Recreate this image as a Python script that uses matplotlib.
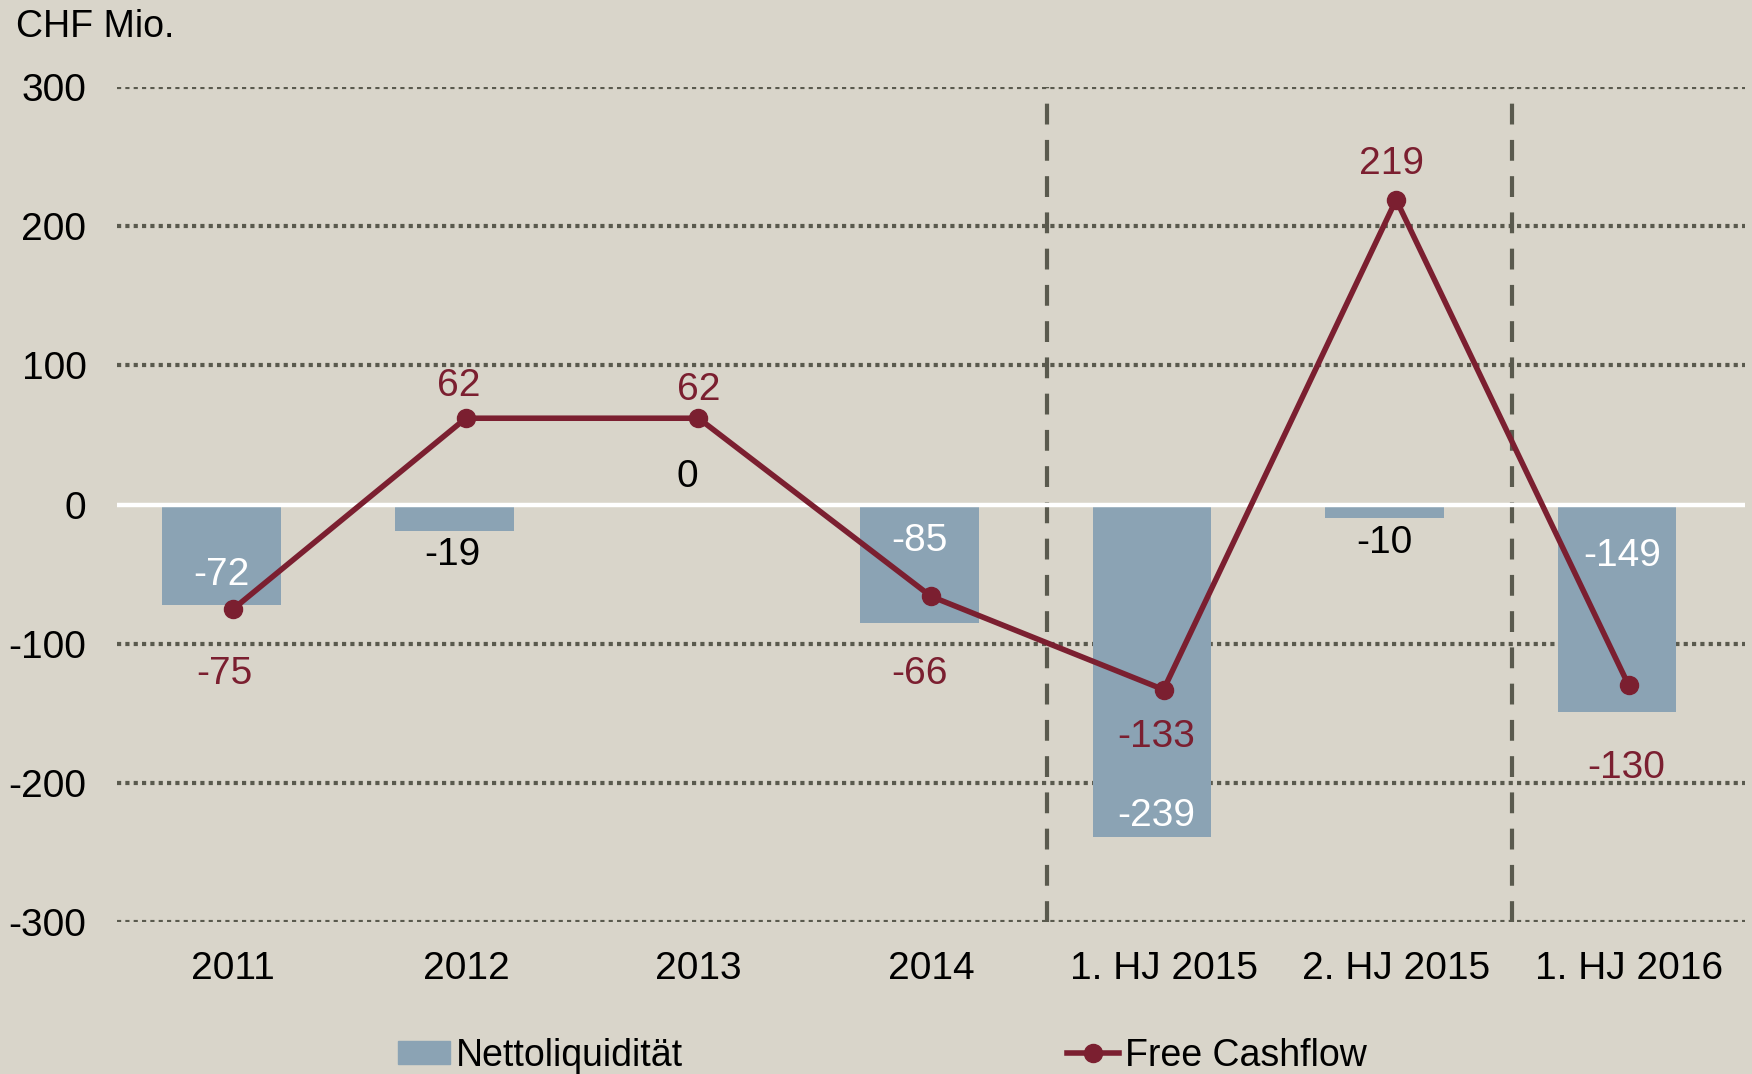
import numpy as np
import matplotlib.pyplot as plt
from matplotlib.patches import Patch
from matplotlib.lines import Line2D

categories = ['2011', '2012', '2013', '2014', '1. HJ 2015', '2. HJ 2015', '1. HJ 2016']
nettoliquiditaet = [-72, -19, 0, -85, -239, -10, -149]
free_cashflow = [-75, 62, 62, -66, -133, 219, -130]

# where the labels sit (data units)
bar_label_y = [-51, -36, 20, -26, -224, -28, -37]
bar_label_dx = [-0.05, -0.06, -0.05, -0.05, -0.03, -0.05, -0.03]
bar_label_white = [True, False, False, True, True, False, True]
line_label_y = [-122, 85, 82, -122, -167, 245, -189]
line_label_dx = [-0.04, -0.03, 0.0, -0.05, -0.03, -0.02, -0.01]

bg = '#d9d5ca'
bar_col = '#8ba3b4'
line_col = '#7b1f30'
grid_col = '#5a5a4e'

plt.rcParams['font.family'] = ['Liberation Sans', 'DejaVu Sans']
fs = 28

fig = plt.figure(figsize=(17.52, 10.74), dpi=100, facecolor=bg)
ax = fig.add_axes([0.0668, 0.1415, 0.9292, 0.7775])
ax.set_facecolor(bg)

x = np.arange(len(categories))
ax.set_xlim(-0.5, 6.5)
ax.set_ylim(-300, 300)

for v in [-300, -200, -100, 100, 200, 300]:
    ax.axhline(v, color=grid_col, lw=3, ls=(0, (1, 1)), zorder=1)
for xv in [3.5, 5.5]:
    ax.plot([xv, xv], [-300, 300], color=grid_col, lw=3, ls=(0, (5, 3.7)), zorder=1)

ax.bar(x - 0.05, nettoliquiditaet, width=0.51, color=bar_col, zorder=2)
ax.axhline(0, color='white', lw=3.2, zorder=3)
ax.plot(x, free_cashflow, color=line_col, lw=4, marker='o', markersize=13, zorder=4)

for i in range(len(x)):
    ax.text(x[i] + bar_label_dx[i], bar_label_y[i], str(nettoliquiditaet[i]),
            ha='center', va='center', fontsize=fs,
            color='white' if bar_label_white[i] else 'black', zorder=5)
    ax.text(x[i] + line_label_dx[i], line_label_y[i], str(free_cashflow[i]),
            ha='center', va='center', fontsize=fs, color=line_col, zorder=5)

ax.set_xticks(x)
ax.set_xticklabels(categories, fontsize=fs)
ax.set_yticks([-300, -200, -100, 0, 100, 200, 300])
ax.set_yticklabels(['-300', '-200', '-100', '0', '100', '200', '300'], fontsize=fs)
ax.tick_params(axis='x', length=0, pad=21)
ax.tick_params(axis='y', length=0, pad=22)
for s in ax.spines.values():
    s.set_visible(False)

fig.text(0.009, 0.975, 'CHF Mio.', fontsize=27, va='center', ha='left')

leg1 = fig.legend(handles=[Patch(color=bar_col, label='Nettoliquidität')],
                  loc='center left', bbox_to_anchor=(0.227, 0.017), frameon=False,
                  fontsize=27, handlelength=1.4, handleheight=0.55, handletextpad=0.15,
                  borderaxespad=0, borderpad=0)
leg2 = fig.legend(handles=[Line2D([], [], color=line_col, lw=4, marker='o', markersize=13,
                                  label='Free Cashflow')],
                  loc='center left', bbox_to_anchor=(0.609, 0.017), frameon=False,
                  fontsize=27, handlelength=1.4, handletextpad=0.15,
                  borderaxespad=0, borderpad=0)

fig.savefig('out.png', facecolor=bg)
